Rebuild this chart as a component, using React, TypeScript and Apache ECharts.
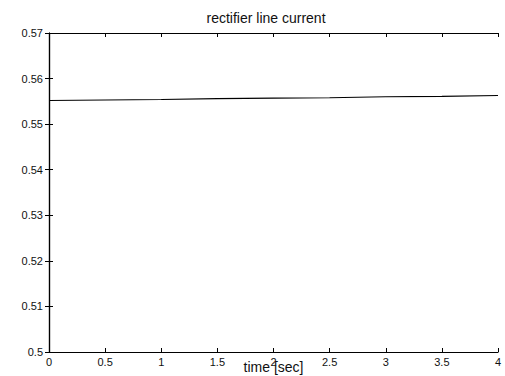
import React, { useEffect, useRef } from "react";
import * as echarts from "echarts";

const timeValues = [0, 0.5, 1, 1.5, 2, 2.5, 3, 3.5, 4];
const currentValues = [0.5552, 0.5553, 0.5554, 0.5556, 0.5557, 0.5558, 0.556, 0.5561, 0.5563];
const xTickLabels = ["0", "0.5", "1", "1.5", "2", "2.5", "3", "3.5", "4"];
const yTickLabels = ["0.5", "0.51", "0.52", "0.53", "0.54", "0.55", "0.56", "0.57"];

export default function App() {
  const ref = useRef<HTMLDivElement>(null);
  useEffect(() => {
    if (!ref.current) return;
    const chart = echarts.init(ref.current, null, { renderer: "svg" });
    const font = "Liberation Sans, Arial, sans-serif";
    const axisLine = { show: true, lineStyle: { color: "#000", width: 1.2 } };
    const tick = { show: true, inside: true, length: 4, lineStyle: { color: "#000" } };
    chart.setOption({
      animation: false,
      backgroundColor: "#fff",
      title: {
        text: "rectifier line current",
        left: 261,
        top: 6,
        textAlign: "center",
        textStyle: { fontFamily: font, fontSize: 14, fontWeight: "normal", color: "#111" },
      },
      grid: { left: 49, right: 7, top: 33, bottom: 24, outerBoundsMode: "none", containLabel: false },
      xAxis: [
        {
          type: "value",
          min: 0,
          max: 4,
          interval: 0.5,
          name: "time [sec]",
          nameLocation: "middle",
          nameGap: 8,
          nameMoveOverlap: false,
          nameTextStyle: { fontFamily: font, fontSize: 14, color: "#111", verticalAlign: "top" },
          axisLine,
          axisTick: tick,
          splitLine: { show: false },
          axisLabel: {
            fontFamily: font,
            fontSize: 11,
            color: "#111",
            margin: 4,
            formatter: (v: number) => xTickLabels[Math.round(v / 0.5)] ?? "",
          },
        },
        {
          type: "value",
          position: "top",
          min: 0,
          max: 4,
          interval: 0.5,
          axisLine,
          axisTick: tick,
          splitLine: { show: false },
          axisLabel: { show: false },
        },
      ],
      yAxis: [
        {
          type: "value",
          min: 0.5,
          max: 0.57,
          interval: 0.01,
          axisLine,
          axisTick: tick,
          splitLine: { show: false },
          axisLabel: {
            fontFamily: font,
            fontSize: 11,
            color: "#111",
            margin: 6,
            formatter: (v: number) => yTickLabels[Math.round((v - 0.5) / 0.01)] ?? "",
          },
        },
        {
          type: "value",
          position: "right",
          min: 0.5,
          max: 0.57,
          interval: 0.01,
          axisLine,
          axisTick: tick,
          splitLine: { show: false },
          axisLabel: { show: false },
        },
      ],
      series: [
        {
          type: "line",
          data: timeValues.map((t, i) => [t, currentValues[i]]),
          showSymbol: false,
          lineStyle: { color: "#000", width: 1.1 },
        },
      ],
    });
    return () => chart.dispose();
  }, []);
  return <div ref={ref} style={{ width: 505, height: 376, position: "absolute", left: 0, top: 0 }} />;
}
